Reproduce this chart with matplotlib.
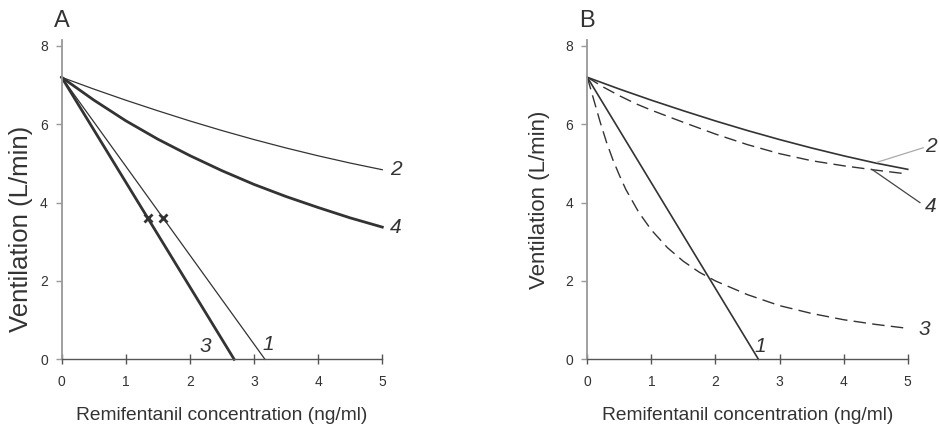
import matplotlib
matplotlib.use('Agg')
import matplotlib.pyplot as plt

plt.rcParams['font.family'] = ['Liberation Sans', 'DejaVu Sans']

# concentration grid used for the read-off curves (ng/ml)
conc = [0, 0.5, 1, 1.5, 2, 2.5, 3, 3.5, 4, 4.5, 5]

# panel A
a_curve2 = [7.2, 6.9, 6.615, 6.345, 6.085, 5.84, 5.61, 5.395, 5.195, 5.01, 4.84]
a_curve4 = [7.2, 6.62, 6.09, 5.62, 5.2, 4.815, 4.465, 4.155, 3.875, 3.61, 3.375]
a_line1_x = [0, 3.17]
a_line1_y = [7.2, 0]
a_line3_x = [0, 2.69]
a_line3_y = [7.2, 0]
a_marks_x = [1.345, 1.585]
a_marks_y = [3.6, 3.6]

# panel B
b_curve2 = [7.2, 6.9, 6.615, 6.345, 6.085, 5.84, 5.61, 5.395, 5.195, 5.01, 4.85]
b_conc4 = [0, 0.25, 0.5, 0.75, 1, 1.5, 2, 2.5, 3, 3.5, 4, 4.5, 5]
b_curve4 = [7.2, 6.95, 6.73, 6.53, 6.36, 6.05, 5.75, 5.48, 5.25, 5.07, 4.94, 4.83, 4.73]
b_conc3 = [0, 0.1, 0.2, 0.3, 0.4, 0.5, 0.6, 0.8, 1, 1.25, 1.5, 1.75, 2,
           2.5, 3, 3.5, 4, 4.5, 5]
b_curve3 = [7.2, 6.63, 6.06, 5.54, 5.09, 4.7, 4.34, 3.76, 3.3, 2.85, 2.5, 2.22, 2.0,
            1.65, 1.37, 1.17, 1.01, 0.89, 0.79]
b_line1_x = [0, 2.67]
b_line1_y = [7.2, 0]

xticks = [0, 1, 2, 3, 4, 5]
yticks = [0, 2, 4, 6, 8]
xlabel = 'Remifentanil concentration (ng/ml)'
ylabel = 'Ventilation (L/min)'

dark = '#333333'
fig = plt.figure(figsize=(9.4, 4.26), dpi=100)
axA = fig.add_axes([0.0656, 0.1566, 0.3411, 0.7493])
axB = fig.add_axes([0.6248, 0.1566, 0.3409, 0.7493])


def style(ax, ylabsize, ylab_xy):
    ax.set_xlim(0, 5)
    ax.set_ylim(0, 8.15)
    ax.set_xticks(xticks)
    ax.set_yticks(yticks)
    for s in ['top', 'right']:
        ax.spines[s].set_visible(False)
    ax.spines['left'].set_color('#999999')
    ax.spines['left'].set_linewidth(1.3)
    ax.spines['bottom'].set_color('#555555')
    ax.spines['bottom'].set_linewidth(1.0)
    ax.spines['bottom'].set_bounds(0, 5)
    ax.tick_params(axis='x', direction='inout', length=7, width=1, colors='#555555',
                   labelsize=10, labelcolor=dark, pad=8)
    ax.tick_params(axis='y', direction='out', length=4, width=1, colors='#999999',
                   labelsize=10, labelcolor=dark, pad=6)
    ax.set_xlabel(xlabel, fontsize=13.8, color=dark, labelpad=13)
    ax.set_ylabel(ylabel, fontsize=ylabsize, color=dark)
    ax.yaxis.set_label_coords(*ylab_xy)


style(axA, 18.5, (-0.09, 0.41))
style(axB, 16, (-0.117, 0.5))

# panel A
axA.plot(conc, a_curve2, color=dark, lw=0.9, clip_on=False)
axA.plot(conc, a_curve4, color=dark, lw=2.0, clip_on=False)
axA.plot(a_line1_x, a_line1_y, color=dark, lw=0.9, clip_on=False)
axA.plot(a_line3_x, a_line3_y, color=dark, lw=2.0, clip_on=False)
axA.plot(a_marks_x, a_marks_y, 'x', color=dark, ms=6, mew=2)

lab = dict(fontsize=15, color=dark, style='italic', clip_on=False)
axA.text(5.12, 4.85, '2', va='center', ha='left', **lab)
axA.text(5.12, 3.37, '4', va='center', ha='left', **lab)
axA.text(2.24, 0.32, '3', va='center', ha='center', **lab)
axA.text(3.22, 0.37, '1', va='center', ha='center', **lab)
axA.text(0.0, 8.65, 'A', fontsize=17, color=dark, ha='center', va='center')

# panel B
axB.plot(conc, b_curve2, color=dark, lw=1.2, clip_on=False)
axB.plot(b_conc4, b_curve4, color=dark, lw=1.0, dashes=(9, 4.5), clip_on=False)
axB.plot(b_conc3, b_curve3, color=dark, lw=1.0, dashes=(9, 4.5), clip_on=False)
axB.plot(b_line1_x, b_line1_y, color=dark, lw=1.2, clip_on=False)

axB.plot([4.52, 5.24], [5.03, 5.4], color='#aaaaaa', lw=0.9, clip_on=False)
axB.plot([4.44, 5.19], [4.85, 4.0], color='#444444', lw=0.9, clip_on=False)
axB.text(5.27, 5.43, '2', va='center', ha='left', **lab)
axB.text(5.27, 3.9, '4', va='center', ha='left', **lab)
axB.text(5.17, 0.75, '3', va='center', ha='left', **lab)
axB.text(2.70, 0.32, '1', va='center', ha='center', **lab)
axB.text(0.0, 8.65, 'B', fontsize=17, color=dark, ha='center', va='center')

fig.savefig('out.png', dpi=100)
